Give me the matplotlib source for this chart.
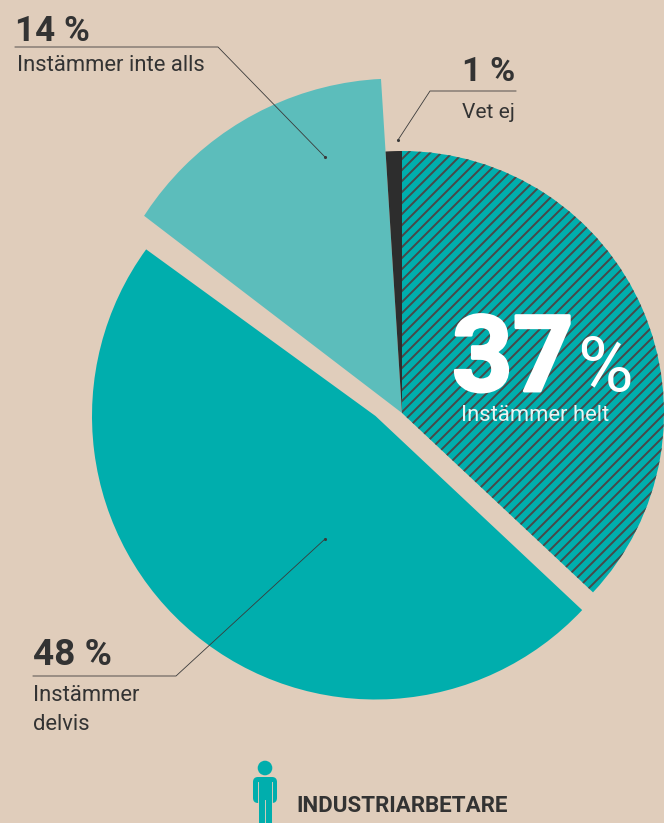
import matplotlib
matplotlib.use("Agg")
import matplotlib.pyplot as plt
import matplotlib.patheffects as pe
from matplotlib.patches import Wedge, Circle, FancyBboxPatch

labels = ["Instämmer helt", "Instämmer\ndelvis", "Instämmer inte alls", "Vet ej"]
values = [37, 48, 14, 1]
value_labels = ["37", "48 %", "14 %", "1 %"]
colors = ["#00AEAD", "#00AEAD", "#5CBDBB", "#2D2D2D"]
radius = [262, 283.5, 345, 262]
centers = [(402, 413), (375.5, 416), (402, 413), (402, 413)]
trim = [0, 0, 1.4, 0]

BG = "#E0CDBB"
TXT = "#333333"
H = 823
DPI = 132

plt.rcParams['font.family'] = ['Roboto', 'DejaVu Sans']
plt.rcParams['hatch.linewidth'] = 1.05


def pt(px):
    return px * 72 / DPI


fig = plt.figure(figsize=(664 / DPI, 823 / DPI), dpi=DPI, facecolor=BG)
ax = fig.add_axes([0, 0, 1, 1])
ax.set_xlim(0, 664)
ax.set_ylim(0, H)
ax.axis('off')

# wedges run clockwise from twelve o'clock
start = 90
for i in range(len(values)):
    end = start - values[i] * 3.6
    cx, cy = centers[i]
    if i == 0:
        w = Wedge((cx, H - cy), radius[i], end, start, facecolor=colors[i],
                  edgecolor="#484848", hatch="////", linewidth=0)
    else:
        w = Wedge((cx, H - cy), radius[i], end, start - trim[i], facecolor=colors[i], linewidth=0)
    ax.add_patch(w)
    if i == 2:
        # the light slice has a flatter outer arc than the others
        w.set_clip_path(Circle((396.4, H - 379), 300.5, transform=ax.transData))
    start = end

# leader lines
leaders = [
    ([15, 218, 325], [47, 47, 157]),
    ([516, 430, 398], [91, 91, 140]),
    ([33, 176, 325], [676, 676, 539]),
]
for xs, ys in leaders:
    ax.plot(xs, [H - y for y in ys], color="#3A3A3A", lw=0.45, solid_joinstyle='miter')
    ax.plot(xs[-1], H - ys[-1], 'o', color="#3A3A3A", ms=1.7, mew=0)

# big label
ax.text(452, H - 391, value_labels[0], color="white", fontsize=pt(106), fontweight='bold', ha='left', va='baseline',
        path_effects=[pe.withStroke(linewidth=1.6, foreground="white")])
ax.text(577, H - 391, "%", color="white", fontsize=pt(76), ha='left', va='baseline')
ax.text(535, H - 421, labels[0], color="#EAF4F3", fontsize=pt(22), ha='center', va='baseline')

# small labels
ax.text(15, H - 41, value_labels[2], color=TXT, fontsize=pt(35), fontweight='bold', ha='left', va='baseline')
ax.text(17, H - 71, labels[2], color=TXT, fontsize=pt(22), ha='left', va='baseline')
ax.text(515, H - 81, value_labels[3], color=TXT, fontsize=pt(34), fontweight='bold', ha='right', va='baseline')
ax.text(515, H - 118, labels[3], color=TXT, fontsize=pt(21), ha='right', va='baseline')
ax.text(33, H - 665, value_labels[1], color=TXT, fontsize=pt(37), fontweight='bold', ha='left', va='baseline')
ax.text(33, H - 701, "Instämmer", color=TXT, fontsize=pt(22), ha='left', va='baseline')
ax.text(33, H - 730, "delvis", color=TXT, fontsize=pt(22), ha='left', va='baseline')

# person icon
teal = "#00AEAD"
ax.add_patch(Circle((265, H - 768), 7.3, color=teal, lw=0))
ax.add_patch(FancyBboxPatch((256, H - 800), 18, 20, boxstyle="round,pad=3,rounding_size=5", color=teal, lw=0))
ax.fill_between([258.5, 271.5], 0, H - 799, color=teal, lw=0)
ax.plot([265, 265], [0, H - 800], color=BG, lw=0.5)
ax.plot([258, 258], [H - 802, H - 782], color=BG, lw=0.5)
ax.plot([272, 272], [H - 802, H - 782], color=BG, lw=0.5)

ax.text(296, H - 812, "INDUSTRIARBETARE", color=TXT, fontsize=pt(22.4), fontweight='bold', ha='left', va='baseline')

fig.savefig("out.png", dpi=DPI, facecolor=BG)
